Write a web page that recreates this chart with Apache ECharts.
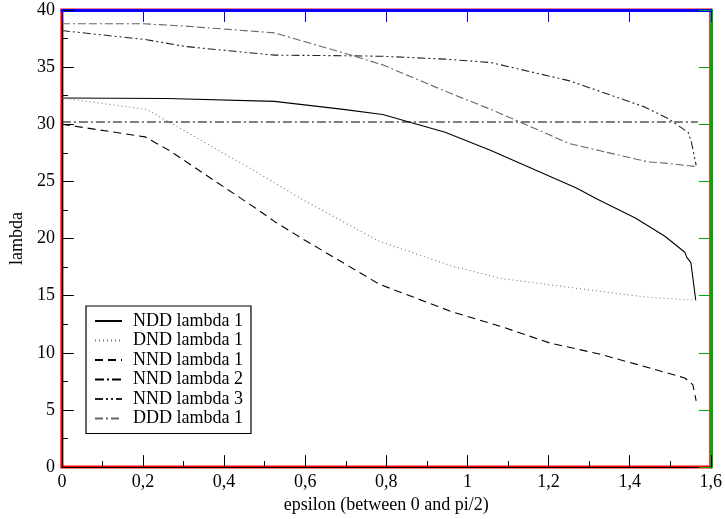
<!DOCTYPE html>
<html>
<head>
<meta charset="utf-8">
<script src="https://cdn.jsdelivr.net/npm/echarts@6/dist/echarts.min.js"></script>
<style>html,body{margin:0;padding:0;background:#fff}#c{width:725px;height:519px}</style>
</head>
<body>
<div id="c"></div>
<script>
// Data: [epsilon, lambda]
const seriesNames = ['NDD lambda 1','DND lambda 1','NND lambda 1','NND lambda 2','NND lambda 3','DDD lambda 1'];
const NDD1 = [[0,32.3],[0.26,32.25],[0.524,32.0],[0.694,31.3],[0.791,30.85],[0.945,29.3],[1.058,27.7],[1.27,24.4],[1.317,23.5],[1.414,21.8],[1.487,20.2],[1.536,18.8],[1.541,18.35],[1.551,17.9],[1.563,14.6]];
const DND1 = [[0,32.3],[0.209,31.3],[0.274,30.0],[0.476,25.9],[0.589,23.5],[0.78,19.8],[0.961,17.6],[1.083,16.5],[1.204,15.95],[1.366,15.2],[1.45,14.85],[1.563,14.6]];
const NND1 = [[0,30.0],[0.205,28.9],[0.265,27.7],[0.476,22.7],[0.524,21.5],[0.597,19.9],[0.783,16.0],[0.961,13.6],[1.083,12.3],[1.204,10.85],[1.325,9.9],[1.447,8.7],[1.536,7.8],[1.556,7.2],[1.564,5.8]];
const NND2 = [[0,30.2],[1.568,30.2]];
const NND3 = [[0,38.2],[0.209,37.4],[0.306,36.8],[0.524,36.05],[0.694,36.0],[0.791,35.95],[0.945,35.7],[1.058,35.4],[1.252,33.8],[1.325,32.9],[1.438,31.5],[1.495,30.5],[1.544,29.3],[1.552,28.5],[1.564,26.4]];
const DDD1 = [[0,38.8],[0.2,38.8],[0.3,38.6],[0.524,38.0],[0.694,36.25],[0.791,35.2],[0.945,32.9],[1.058,31.3],[1.252,28.3],[1.325,27.7],[1.447,26.7],[1.487,26.6],[1.564,26.3]];
const xTicks = {min:0, max:1.6, interval:0.2};
const yTicks = {min:0, max:40, interval:5};

const FONT = 'Liberation Serif';
const styles = [
  {color:'#000', type:'solid'},
  {color:'#777', type:[1,3]},
  {color:'#000', type:[8,5]},
  {color:'#000', type:[9,3,2,3]},
  {color:'#222', type:[8,3,2,3,2,3]},
  {color:'#666', type:[8,3,2,3,8,3]}
];
const datasets = [NDD1, DND1, NND1, NND2, NND3, DDD1];

function fmt(v){ return Number(v.toFixed(1)).toString().replace('.', ','); }

const tickStyle = {show:true, inside:true, length:12, lineStyle:{color:'#000', width:1}};
const minorStyle = {show:true, splitNumber:2, length:6, lineStyle:{color:'#000', width:1}};

const series = seriesNames.map((n,i)=>({
  name:n, type:'line', data:datasets[i], symbol:'none',
  xAxisIndex:0, yAxisIndex:0,
  lineStyle:{color:styles[i].color, type:styles[i].type, width:1.1},
  itemStyle:{color:styles[i].color}
}));
series.push({name:'_mirror', type:'line', data:NND2, xAxisIndex:1, yAxisIndex:1,
  symbol:'none', silent:true, lineStyle:{opacity:0}});

const chart = echarts.init(document.getElementById('c'));
chart.setOption({
  animation:false,
  grid:{left:54, right:12, top:10, bottom:47, show:true, borderColor:'#f00', borderWidth:3},
  legend:{
    orient:'vertical', left:86, top:306,
    data: seriesNames,
    itemWidth:27, itemHeight:10, itemGap:1.5,
    padding:[6,8,6,8],
    borderColor:'#000', borderWidth:1.2,
    itemStyle:{opacity:0},
    textStyle:{fontFamily:FONT, fontSize:18, color:'#000', lineHeight:18, padding:[0,0,0,6]}
  },
  xAxis:[
    {type:'value', min:xTicks.min, max:xTicks.max, interval:xTicks.interval,
      name:'epsilon (between 0 and pi/2)', nameLocation:'middle', nameGap:18,
      nameTextStyle:{fontFamily:FONT, fontSize:18, color:'#000'},
      axisLine:{show:true, onZero:false, lineStyle:{color:'#000', width:1.2}},
      axisTick:tickStyle, minorTick:minorStyle, splitLine:{show:false},
      axisLabel:{fontFamily:FONT, fontSize:18, color:'#000', margin:6, formatter:fmt}},
    {type:'value', position:'top', min:xTicks.min, max:xTicks.max, interval:xTicks.interval,
      axisLine:{show:true, onZero:false, lineStyle:{color:'#00f', width:3}},
      axisTick:{show:true, inside:true, length:12, lineStyle:{color:'#00f'}},
      splitLine:{show:false},
      axisLabel:{show:false}}
  ],
  yAxis:[
    {type:'value', min:yTicks.min, max:yTicks.max, interval:yTicks.interval,
      name:'lambda', nameLocation:'middle', nameGap:18,
      nameTextStyle:{fontFamily:FONT, fontSize:18, color:'#000'},
      axisLine:{show:true, onZero:false, lineStyle:{color:'#000', width:1.2}},
      axisTick:tickStyle, minorTick:minorStyle, splitLine:{show:false},
      axisLabel:{fontFamily:FONT, fontSize:18, color:'#000', margin:7}},
    {type:'value', position:'right', min:yTicks.min, max:yTicks.max, interval:yTicks.interval,
      axisLine:{show:true, onZero:false, lineStyle:{color:'#0a0', width:3}},
      axisTick:{show:true, inside:true, length:12, lineStyle:{color:'#0a0'}},
      splitLine:{show:false},
      axisLabel:{show:false}}
  ],
  series: series
});
</script>
</body>
</html>
